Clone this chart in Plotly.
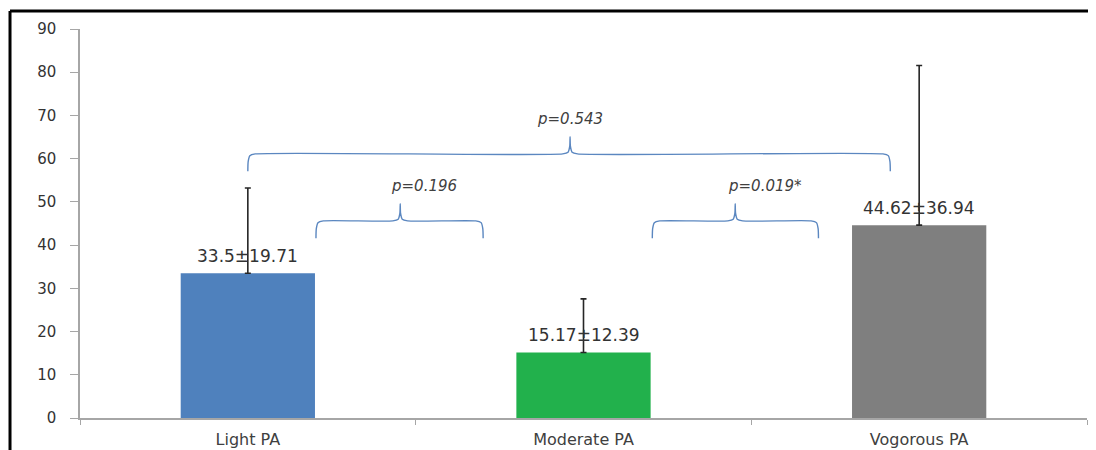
import plotly.graph_objects as go

categories = ["Light PA", "Moderate PA", "Vogorous PA"]
means = [33.5, 15.17, 44.62]
sds = [19.71, 12.39, 36.94]
bar_colors = ["#4F81BD", "#22B14C", "#7F7F7F"]
value_labels = ["33.5±19.71", "15.17±12.39", "44.62±36.94"]
y_ticks = [0, 10, 20, 30, 40, 50, 60, 70, 80, 90]

# comparison braces: (x start, x end, x of cusp, y of line, p-value label, label x)
braces = [
    (0.0, 1.914, 0.96, 61.1, "p=0.543", 0.96),
    (0.203, 0.701, 0.454, 45.6, "p=0.196", 0.525),
    (1.205, 1.70, 1.452, 45.6, "p=0.019*", 1.54),
]
brace_drop = 4.0
brace_peak = 4.0
brace_color = "#5B87C0"
text_color = "#404040"

fig = go.Figure()
fig.add_trace(go.Bar(
    x=categories, y=means,
    marker=dict(color=bar_colors, line=dict(width=0)),
    width=0.4,
    error_y=dict(type="data", symmetric=False, array=sds,
                 arrayminus=[0, 0, 0], color="#262626", thickness=1.6, width=3),
    showlegend=False, hoverinfo="skip",
))

for i, (cat, m, lab) in enumerate(zip(categories, means, value_labels)):
    fig.add_annotation(x=cat, y=m, text=lab, showarrow=False, yanchor="bottom",
                       yshift=5, font=dict(family="DejaVu Sans", size=17, color="#333333"))

for (a, b, c, h, lab, lx) in braces:
    e = 0.022
    xs = [a, a + 0.001, a + 0.006, a + e, c - e, c - 0.006, c - 0.001, c,
          c + 0.001, c + 0.006, c + e, b - e, b - 0.006, b - 0.001, b]
    ys = [h - brace_drop, h - brace_drop * 0.45, h - brace_drop * 0.1, h, h,
          h + brace_peak * 0.1, h + brace_peak * 0.45, h + brace_peak,
          h + brace_peak * 0.45, h + brace_peak * 0.1, h, h,
          h - brace_drop * 0.1, h - brace_drop * 0.45, h - brace_drop]
    fig.add_trace(go.Scatter(x=xs, y=ys, xaxis="x2", yaxis="y", mode="lines",
                             line=dict(color=brace_color, width=1.4, shape="spline", smoothing=0.6),
                             showlegend=False, hoverinfo="skip"))
    fig.add_annotation(x=lx, y=h + brace_peak + 1.5, xref="x2", yref="y", text="<i>" + lab + "</i>",
                       showarrow=False, yanchor="bottom",
                       font=dict(family="DejaVu Sans", size=15, color=text_color))

fig.update_layout(
    width=1096, height=450,
    margin=dict(l=72, r=17, t=21, b=40),
    paper_bgcolor="white", plot_bgcolor="white",
    xaxis=dict(type="category", range=[-0.5, 2.5], showline=True, linecolor="#A6A6A6",
               linewidth=1.5, ticks="outside", tickson="boundaries", ticklen=5,
               tickcolor="#A6A6A6", showgrid=False, zeroline=False, ticklabelstandoff=6,
               automargin=False,
               tickfont=dict(family="DejaVu Sans", size=16, color=text_color)),
    xaxis2=dict(overlaying="x", range=[-0.5, 2.5], visible=False),
    yaxis=dict(range=[0, 90], tickvals=y_ticks, showline=True, linecolor="#A6A6A6",
               linewidth=1.5, ticks="outside", ticklen=8, tickcolor="#A6A6A6",
               showgrid=False, zeroline=False, ticklabelstandoff=11, automargin=False,
               tickfont=dict(family="DejaVu Sans", size=15, color="#333333")),
)

# outer frame (left and top edges visible in reference)
fig.add_shape(type="line", xref="paper", yref="paper", x0=-0.0695, x1=-0.0695, y0=-0.2, y1=1.0463,
              line=dict(color="black", width=3))
fig.add_shape(type="line", xref="paper", yref="paper", x0=-0.0695, x1=1.03, y0=1.0463, y1=1.0463,
              line=dict(color="black", width=3))

fig.write_html("out.html")
